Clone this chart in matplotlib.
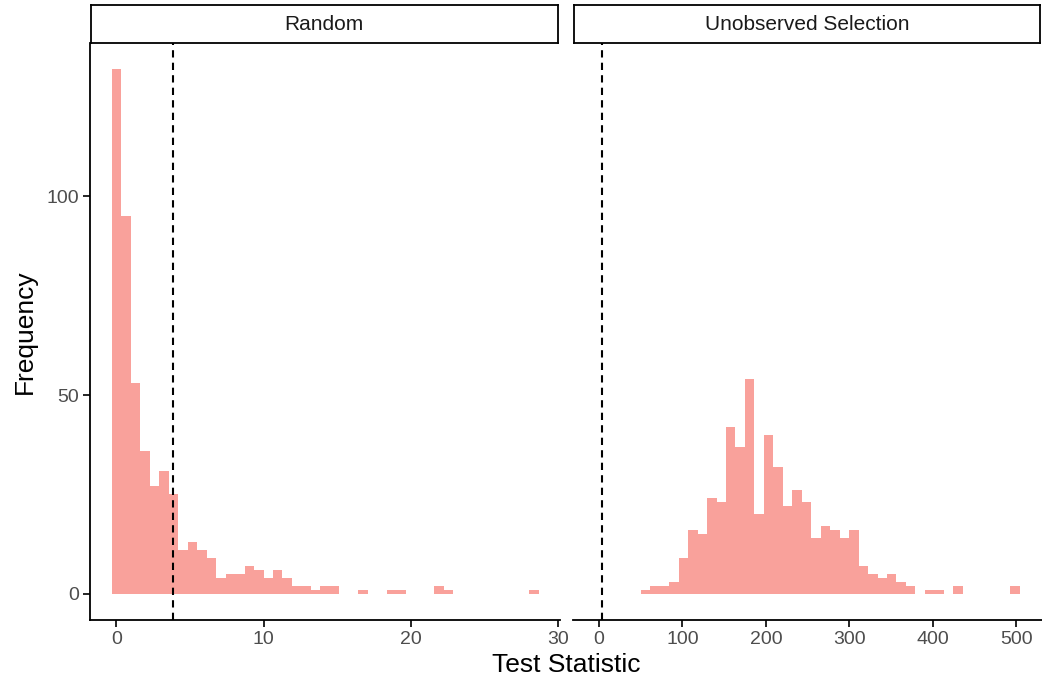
import numpy as np
import matplotlib
matplotlib.use("Agg")
import matplotlib.pyplot as plt

plt.rcParams['font.family'] = ['Liberation Sans', 'DejaVu Sans']

# histogram counts per bin
random_counts = [132, 95, 53, 36, 27, 31, 25, 11, 13, 11, 9, 4, 5, 5, 7, 6, 4, 6, 4,
                 2, 2, 1, 2, 2, 0, 0, 1, 0, 0, 1, 1, 0, 0, 0, 2, 1, 0, 0, 0, 0,
                 0, 0, 0, 0, 1]
random_start, random_width = -0.32, 0.644

selection_counts = [1, 2, 2, 3, 9, 16, 15, 24, 23, 42, 37, 54, 20, 40, 32, 22, 26, 23,
                    14, 17, 16, 14, 16, 7, 5, 4, 5, 3, 2, 0, 1, 1, 0, 2, 0, 0, 0,
                    0, 0, 2]
selection_start, selection_width = 50.0, 11.35

panel_titles = ["Random", "Unobserved Selection"]
critical_value = 3.84
x_ticks = [[0, 10, 20, 30], [0, 100, 200, 300, 400, 500]]
x_limits = [(-1.79, 30.07), (-31.5, 530.8)]
y_ticks = [0, 50, 100]

fill = '#F9A19B'
tick_grey = '#4D4D4D'

fig = plt.figure(figsize=(10.42, 6.83), dpi=100)
W, H = 1042, 683
panel_px = [(90, 559.5), (572.7, 1042)]
top_px, bottom_px = 43, 620

panels = [(random_counts, random_start, random_width),
          (selection_counts, selection_start, selection_width)]

for i, ((x0, x1), (counts, start, width)) in enumerate(zip(panel_px, panels)):
    ax = fig.add_axes([x0 / W, 1 - bottom_px / H, (x1 - x0) / W, (bottom_px - top_px) / H])
    lefts = start + width * np.arange(len(counts))
    ax.bar(lefts, counts, width=width, align='edge', color=fill, edgecolor='none')
    ax.axvline(critical_value, color='black', linestyle=(0, (3.5, 2.5)), linewidth=1.5)

    ax.set_xlim(*x_limits[i])
    ax.set_ylim(-6.6, 138.6)
    ax.set_xticks(x_ticks[i])
    ax.tick_params(axis='both', labelsize=14, colors='black', labelcolor=tick_grey,
                   length=5, width=1.2, pad=3)
    ax.spines['top'].set_visible(False)
    ax.spines['right'].set_visible(False)
    ax.spines['bottom'].set_linewidth(1.3)
    ax.spines['left'].set_linewidth(1.3)
    if i == 0:
        ax.set_yticks(y_ticks)
        ax.set_ylabel("Frequency", fontsize=19, labelpad=7)
    else:
        ax.spines['left'].set_visible(False)
        ax.set_yticks([])

    # facet strip
    strip = fig.add_axes([(x0 + 1) / W, 1 - 43 / H, (x1 - x0 - 3) / W, 38 / H])
    strip.set_xticks([])
    strip.set_yticks([])
    for s in strip.spines.values():
        s.set_linewidth(1.3)
    strip.text(0.5, 0.5, panel_titles[i], ha='center', va='center', fontsize=15,
               color='#1A1A1A', transform=strip.transAxes)

fig.text(566 / W, 1 - 665 / H, "Test Statistic", ha='center', va='center', fontsize=19)

fig.savefig("out.png", dpi=100)
